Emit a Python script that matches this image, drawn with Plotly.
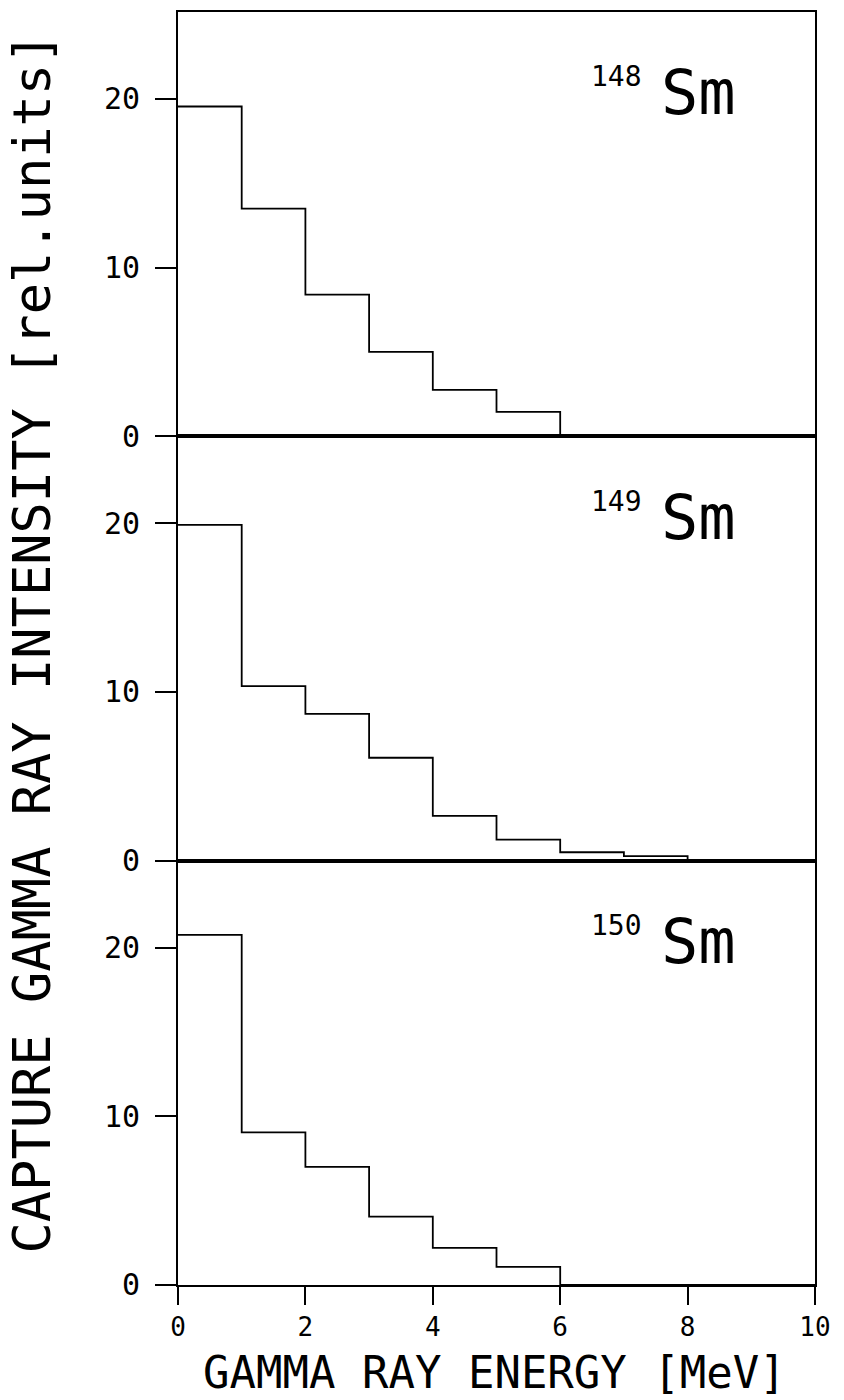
import plotly.graph_objects as go
from plotly.subplots import make_subplots

# ---- data ----
energy_edges = [0, 1, 2, 3, 4, 5, 6, 7, 8, 9, 10]          # MeV bin edges
sm148 = [19.55, 13.5, 8.4, 5.0, 2.75, 1.45, 0, 0, 0, 0]
sm149 = [19.9, 10.35, 8.7, 6.1, 2.65, 1.25, 0.5, 0.27, 0, 0]
sm150 = [20.75, 9.05, 7.0, 4.05, 2.2, 1.07, 0, 0, 0, 0]
panel_series = [sm148, sm149, sm150]
mass_numbers = ["148", "149", "150"]
element = "Sm"
y_ticks = [0, 10, 20]
x_ticks = [0, 2, 4, 6, 8, 10]
x_title = "GAMMA RAY ENERGY [MeV]"
y_title = "CAPTURE GAMMA RAY INTENSITY [rel.units]"

FONT = "DejaVu Sans Mono"
YMAX = 25.15

fig = make_subplots(rows=3, cols=1, vertical_spacing=0)

for i, vals in enumerate(panel_series):
    row = i + 1
    fig.add_trace(
        go.Scatter(
            x=energy_edges,
            y=vals + [vals[-1]],
            mode="lines",
            line=dict(shape="hv", color="black", width=1.8),
            showlegend=False,
            hoverinfo="skip",
        ),
        row=row, col=1,
    )
    is_bottom = row == 3
    fig.update_xaxes(
        range=[0, 10],
        showline=True, mirror=True, linecolor="black", linewidth=2,
        showgrid=False, zeroline=False,
        ticks="outside" if is_bottom else "",
        tickvals=x_ticks if is_bottom else [],
        ticklen=18, tickwidth=2, tickcolor="black",
        showticklabels=is_bottom,
        tickfont=dict(family=FONT, size=26, color="black"),
        ticklabelstandoff=0,
        row=row, col=1,
    )
    fig.update_yaxes(
        range=[0, YMAX],
        showline=True, mirror=True, linecolor="black", linewidth=2,
        showgrid=False, zeroline=False,
        ticks="outside", tickvals=y_ticks,
        ticklen=21, tickwidth=2, tickcolor="black",
        tickfont=dict(family=FONT, size=30, color="black"),
        ticklabelstandoff=9,
        row=row, col=1,
    )
    ysuffix = "" if row == 1 else str(row)
    fig.add_annotation(
        x=6.88, y=21.3, xref="x" + ysuffix, yref="y" + ysuffix,
        text=mass_numbers[i], showarrow=False,
        xanchor="center", yanchor="middle",
        font=dict(family=FONT, size=28, color="black"),
    )
    fig.add_annotation(
        x=7.55, y=20.35, xref="x" + ysuffix, yref="y" + ysuffix,
        text=element, showarrow=False,
        xanchor="left", yanchor="middle",
        font=dict(family=FONT, size=62, color="black"),
    )

fig.add_annotation(
    x=0.497, y=-0.0895, xref="paper", yref="paper",
    text=x_title, showarrow=False,
    xanchor="center", yanchor="bottom", borderpad=0,
    font=dict(family=FONT, size=44, color="black"),
)
fig.add_annotation(
    x=-0.229, y=0.504, xref="paper", yref="paper",
    text=y_title, textangle=-90, showarrow=False,
    xanchor="center", yanchor="middle",
    font=dict(family=FONT, size=52, color="black"),
)

fig.update_layout(
    width=844, height=1400,
    margin=dict(l=178, r=29, t=10, b=115),
    paper_bgcolor="white", plot_bgcolor="white",
)

fig.write_html("out.html")
